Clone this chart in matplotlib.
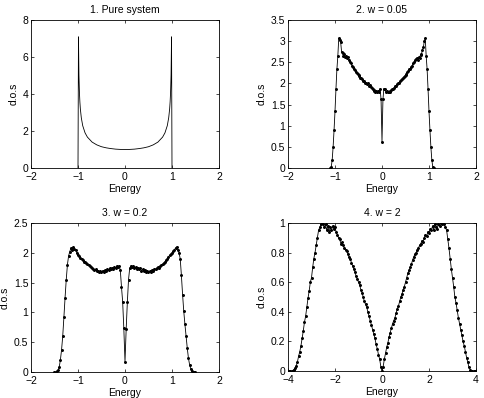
"""Density of states for the pure and disordered system (4 panels)."""
import numpy as np
import matplotlib
matplotlib.use("Agg")
import matplotlib.pyplot as plt
from matplotlib.ticker import FuncFormatter


# %% Daten
# 1. Pure system
E1 = [-1.0, -0.99, -0.98, -0.97, -0.96, -0.95, -0.93, -0.9, -0.85, -0.8,
      -0.7, -0.6, -0.5, -0.4, -0.3, -0.2, -0.1, 0.0,
      0.1, 0.2, 0.3, 0.4, 0.5, 0.6, 0.7, 0.8, 0.85, 0.9, 0.93, 0.95,
      0.96, 0.97, 0.98, 0.99, 1.0]
dos1 = [0.0, 7.09, 5.03, 4.11, 3.57, 3.2, 2.72, 2.29, 1.9, 1.67,
        1.4, 1.25, 1.15, 1.09, 1.05, 1.02, 1.005, 1.0,
        1.005, 1.02, 1.05, 1.09, 1.15, 1.25, 1.4, 1.67, 1.9, 2.29, 2.72, 3.2,
        3.57, 4.11, 5.03, 7.09, 0.0]

# 2. w = 0.05  (E = -1.10 ... 1.10, Schritt 0.02)
E2 = np.round(np.arange(-1.10, 1.1001, 0.02), 2)
dos2 = [0.0, 0.03, 0.19, 0.5, 0.9, 1.34, 1.86, 2.33, 2.64, 3.07,
        3.02, 2.98, 2.75, 2.72, 2.65, 2.7, 2.62, 2.65, 2.6, 2.62,
        2.55, 2.5, 2.48, 2.42, 2.4, 2.35, 2.32, 2.28, 2.25, 2.22,
        2.2, 2.17, 2.14, 2.12, 2.1, 2.06, 2.05, 2.02, 2.0, 1.98,
        2.0, 1.95, 1.97, 1.92, 1.9, 1.86, 1.82, 1.85, 1.8, 1.82,
        1.8, 1.82, 1.8, 1.88, 1.62,
        0.62,
        1.62, 1.88, 1.86, 1.8, 1.82, 1.79, 1.8, 1.82, 1.8, 1.84,
        1.86, 1.88, 1.9, 1.93, 1.95, 1.98, 2.0, 2.02, 2.05, 2.07,
        2.1, 2.12, 2.15, 2.17, 2.2, 2.22, 2.26, 2.3, 2.33, 2.35,
        2.4, 2.42, 2.48, 2.5, 2.55, 2.58, 2.6, 2.55, 2.62, 2.6,
        2.68, 2.7, 2.78, 2.85, 3.0, 3.07, 2.65, 2.33, 1.86, 1.34,
        0.9, 0.5, 0.19, 0.03, 0.0]

# 3. w = 0.2  (E = -1.5 ... 1.5, Schritt 0.025)
E3 = np.round(np.arange(-1.5, 1.5001, 0.025), 3)
dos3 = [0.0, 0.0, 0.01, 0.03, 0.08, 0.2, 0.37, 0.6, 0.92, 1.25,
        1.55, 1.8, 1.95, 2.02, 2.08, 2.05, 2.1, 2.06, 2.05, 2.0,
        1.96, 1.94, 1.92, 1.9, 1.88, 1.85, 1.84, 1.83, 1.82, 1.8,
        1.78, 1.76, 1.75, 1.73, 1.71, 1.72, 1.69, 1.7, 1.67, 1.69,
        1.67, 1.7, 1.68, 1.71, 1.7, 1.72, 1.71, 1.74, 1.72, 1.75,
        1.73, 1.76, 1.74, 1.78, 1.76, 1.78, 1.71, 1.43, 1.18, 0.73,
        0.17,
        0.72, 1.17, 1.55, 1.74, 1.78, 1.76, 1.78, 1.74, 1.76, 1.73,
        1.75, 1.72, 1.74, 1.7, 1.72, 1.69, 1.71, 1.68, 1.7, 1.67,
        1.69, 1.68, 1.71, 1.7, 1.73, 1.72, 1.74, 1.76, 1.75, 1.78,
        1.8, 1.81, 1.83, 1.85, 1.88, 1.9, 1.93, 1.96, 1.98, 2.0,
        2.03, 2.05, 2.08, 2.1, 2.05, 2.0, 1.9, 1.62, 1.3, 1.02,
        0.8, 0.6, 0.4, 0.23, 0.12, 0.05, 0.02, 0.0, 0.0, 0.0]

# 4. w = 2  (E = -4 ... 4, Schritt 0.05)
E4 = np.round(np.arange(-4.0, 4.0001, 0.05), 2)
dos4 = [0.0, 0.0, 0.0, 0.0, 0.003, 0.01, 0.02, 0.035, 0.06, 0.1,
        0.13, 0.17, 0.22, 0.27, 0.33, 0.37, 0.43, 0.49, 0.54, 0.6,
        0.63, 0.7, 0.76, 0.8, 0.85, 0.9, 0.95, 0.97, 0.99, 1.0,
        0.99, 0.97, 0.99, 0.95, 0.98, 0.94, 0.97, 0.95, 0.98, 0.96,
        0.97, 0.94, 0.92, 0.9, 0.89, 0.86, 0.87, 0.85, 0.83, 0.82,
        0.81, 0.79, 0.77, 0.76, 0.73, 0.71, 0.69, 0.67, 0.64, 0.62,
        0.6, 0.58, 0.55, 0.53, 0.5, 0.47, 0.45, 0.43, 0.4, 0.37,
        0.34, 0.31, 0.28, 0.25, 0.22, 0.18, 0.15, 0.11, 0.08, 0.03,
        0.0,
        0.03, 0.08, 0.12, 0.16, 0.19, 0.23, 0.26, 0.29, 0.32, 0.34,
        0.36, 0.39, 0.42, 0.44, 0.47, 0.5, 0.52, 0.55, 0.57, 0.6,
        0.63, 0.66, 0.68, 0.7, 0.72, 0.75, 0.77, 0.79, 0.8, 0.82,
        0.83, 0.85, 0.86, 0.88, 0.87, 0.9, 0.92, 0.91, 0.94, 0.93,
        0.96, 0.95, 0.98, 0.95, 0.99, 0.97, 0.96, 0.99, 0.98, 1.0,
        0.99, 1.0, 0.99, 0.97, 0.95, 0.89, 0.83, 0.76, 0.69, 0.63,
        0.57, 0.5, 0.46, 0.41, 0.36, 0.32, 0.28, 0.24, 0.2, 0.17,
        0.13, 0.09, 0.06, 0.025, 0.01, 0.0, 0.0, 0.0, 0.0, 0.0]

titles = ['1. Pure system', '2. w = 0.05', '3. w = 0.2', '4. w = 2']


# %% Visualisierung
plt.rcParams['font.family'] = ['Liberation Sans', 'DejaVu Sans']
plt.rcParams['font.size'] = 7.5

fig = plt.figure(figsize=(4.85, 3.98), dpi=100)

w, h = 188 / 485, 148 / 398
ax1 = fig.add_axes([31 / 485, 230 / 398, w, h])
ax2 = fig.add_axes([288 / 485, 230 / 398, w, h])
ax3 = fig.add_axes([31 / 485, 26 / 398, w, 149 / 398])
ax4 = fig.add_axes([288 / 485, 27 / 398, w, 148 / 398])

ax1.plot(E1, dos1, color='k', linewidth=0.6)
ax2.plot(E2, dos2, color='k', linewidth=0.6, marker='.', markersize=2.3)
ax3.plot(E3, dos3, color='k', linewidth=0.6, marker='.', markersize=2.3)
ax4.plot(E4, dos4, color='k', linewidth=0.6, marker='.', markersize=2.3)

limits = [((-2, 2), (0, 8)), ((-2, 2), (0, 3.5)),
          ((-2, 2), (0, 2.5)), ((-4, 4), (0, 1))]
yticks = [np.arange(0, 8.1, 2), np.arange(0, 3.51, 0.5),
          np.arange(0, 2.51, 0.5), np.arange(0, 1.01, 0.2)]
xticks = [[-2, -1, 0, 1, 2]] * 3 + [[-4, -2, 0, 2, 4]]

fmt = FuncFormatter(lambda v, pos: ('%g' % round(v, 2)).replace('-', '\u2212'))

for ax, t, (xl, yl), yt, xt in zip([ax1, ax2, ax3, ax4], titles, limits,
                                   yticks, xticks):
    ax.set_xlim(xl)
    ax.set_ylim(yl)
    ax.set_xticks(xt)
    ax.set_yticks(yt)
    ax.xaxis.set_major_formatter(fmt)
    ax.yaxis.set_major_formatter(fmt)
    ax.tick_params(direction='in', top=True, right=True, length=2.5,
                   width=0.5, labelsize=7.5)
    ax.tick_params(axis='x', pad=3)
    ax.tick_params(axis='y', pad=2)
    for s in ax.spines.values():
        s.set_linewidth(0.6)
    ax.set_title(t, fontsize=7.5, pad=5)
    ax.set_xlabel('Energy', fontsize=7.5, labelpad=1)
    ax.set_ylabel('d.o.s', fontsize=7.5, labelpad=3)

fig.savefig('out.png', dpi=100)
